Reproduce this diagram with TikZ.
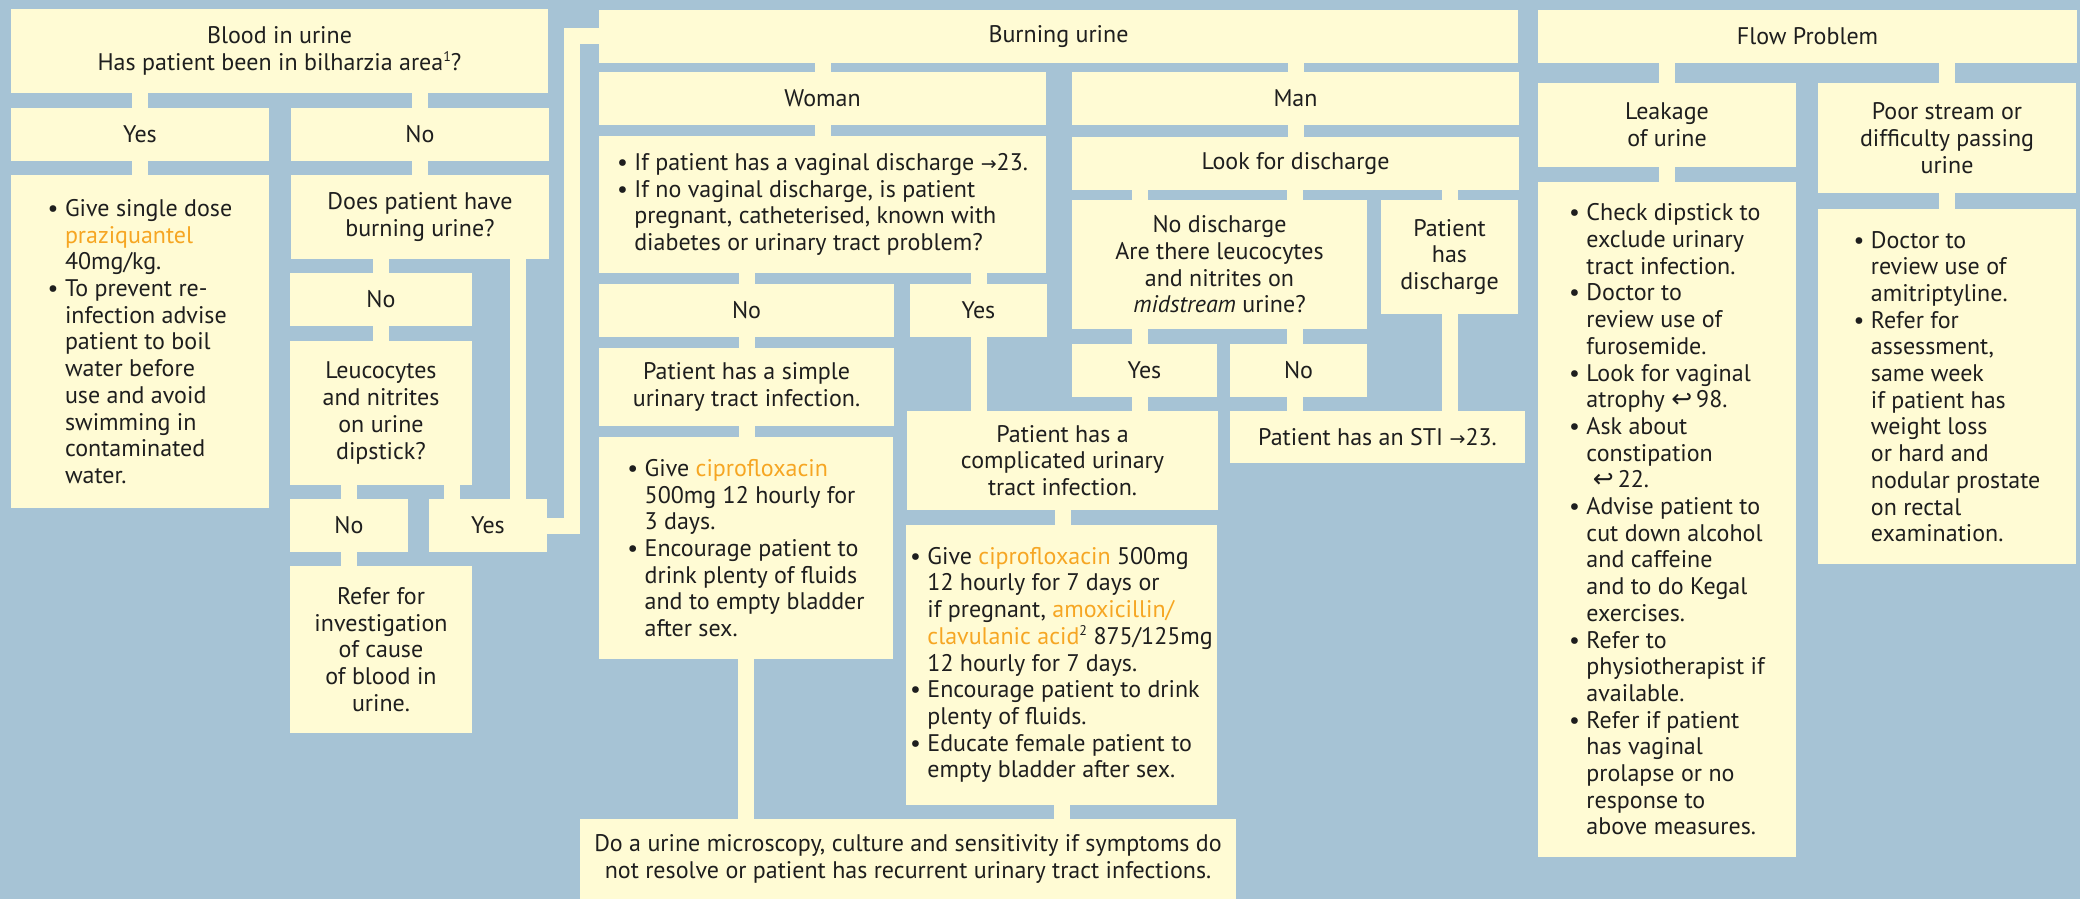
\documentclass[tikz,border=0pt]{standalone}
\usepackage{fontspec}
\setmainfont{PT Sans}
\newfontfamily\symf{DejaVu Sans}
\definecolor{bg}{HTML}{A6C3D5}
\definecolor{bx}{HTML}{FFFBD4}
\definecolor{org}{HTML}{F6A623}
\definecolor{ink}{HTML}{1E1E1E}
\newcommand\ra{{\symf\fontsize{9.5}{10}\selectfont →}}
\newcommand\hk{{\symf\fontsize{12.5}{10}\selectfont ↩}}
\newcommand\bu{\makebox[0.72em][l]{•}}
\newcommand\ii{\hspace*{0.72em}}
\newcommand\og[1]{\textcolor{org}{#1}}
\newcommand\sups[1]{\raisebox{0.75ex}{\fontsize{7}{7}\selectfont #1}}
\newcommand\bx[7][]{\node[box,#1, minimum width={(#4-#2)*0.5pt}, minimum height={(#5-#3)*0.5pt}] (#6) at ({(#2+#4)/2},{(#3+#5)/2}) {#7};}
\tikzset{
  box/.style={fill=bx, inner sep=0pt, align=center, text=ink, font=\fontsize{12}{13.35}\selectfont},
  lst/.style={align=left},
  conn/.style={draw=bx, line width=8pt},
}
\begin{document}
\begin{tikzpicture}[x=0.5pt,y=-0.5pt]
\fill[bg] (0,0) rectangle (2080,899);
\useasboundingbox (0,0) rectangle (2080,899);
% boxes
\bx{11}{9}{548}{93}{Blood}{Blood in urine\\Has patient been in bilharzia area\sups{1}?}
\bx{11}{108}{269}{161}{YesA}{Yes}
\bx{291}{108}{549}{161}{NoA}{No}
\bx[lst]{11}{175}{269}{508}{YesC}{\bu Give single dose\\\ii\og{praziquantel}\\\ii 40mg/kg.\\\bu To prevent re-\\\ii infection advise\\\ii patient to boil\\\ii water before\\\ii use and avoid\\\ii swimming in\\\ii contaminated\\\ii water.}
\bx{291}{175}{549}{259}{Does}{Does patient have\\burning urine?}
\bx{290}{273}{472}{326}{NoB}{No}
\bx{290}{341}{472}{485}{Leuco}{Leucocytes\\and nitrites\\on urine\\dipstick?}
\bx{290}{499}{408}{552}{NoC}{No}
\bx{429}{499}{547}{552}{YesB}{Yes}
\bx{290}{566}{472}{733}{Refer}{Refer for\\investigation\\of cause\\of blood in\\urine.}
\bx{599}{10}{1518}{63}{Burning}{Burning urine}
\bx{599}{72}{1046}{125}{Woman}{Woman}
\bx[lst]{599}{136}{1046}{273}{WC}{\bu If patient has a vaginal discharge \ra23.\\\bu If no vaginal discharge, is patient\\\ii pregnant, catheterised, known with\\\ii diabetes or urinary tract problem?}
\bx{599}{284}{894}{337}{NoW}{No}
\bx{910}{284}{1047}{337}{YesW}{Yes}
\bx{599}{348}{894}{426}{Simple}{Patient has a simple\\urinary tract infection.}
\bx[lst]{599}{437}{893}{659}{GiveS}{\bu Give \og{ciprofloxacin}\\\ii 500mg 12 hourly for\\\ii 3 days.\\\bu Encourage patient to\\\ii drink plenty of fluids\\\ii and to empty bladder\\\ii after sex.}
\bx{907}{411}{1218}{510}{Comp}{Patient has a\\complicated urinary\\tract infection.}
\bx[lst]{906}{525}{1217}{805}{GiveC}{\bu Give \og{ciprofloxacin} 500mg\\\ii 12 hourly for 7 days or\\\ii if pregnant, \og{amoxicillin/}\\\ii\og{clavulanic acid}\sups{2} 875/125mg\\\ii 12 hourly for 7 days.\\\bu Encourage patient to drink\\\ii plenty of fluids.\\\bu Educate female patient to\\\ii empty bladder after sex.}
\bx{580}{819}{1236}{899}{DoU}{Do a urine microscopy, culture and sensitivity if symptoms do\\not resolve or patient has recurrent urinary tract infections.}
\bx{1072}{72}{1519}{125}{Man}{Man}
\bx{1072}{137}{1519}{190}{Look}{Look for discharge}
\bx{1072}{200}{1367}{329}{NoDis}{No discharge\\Are there leucocytes\\and nitrites on\\\textit{midstream} urine?}
\bx{1381}{200}{1518}{314}{PatDis}{Patient\\has\\discharge}
\bx{1072}{344}{1217}{397}{YesM}{Yes}
\bx{1230}{344}{1367}{397}{NoM}{No}
\bx{1230}{411}{1525}{463}{STI}{Patient has an STI \ra23.}
\bx{1538}{10}{2077}{63}{Flow}{Flow Problem}
\bx{1538}{83}{1796}{167}{Leak}{Leakage\\of urine}
\bx{1818}{83}{2076}{193}{Poor}{Poor stream or\\difficulty passing\\urine}
\bx[lst]{1538}{182}{1796}{857}{LeakC}{\bu Check dipstick to\\\ii exclude urinary\\\ii tract infection.\\\bu Doctor to\\\ii review use of\\\ii furosemide.\\\bu Look for vaginal\\\ii atrophy \hk\,98.\\\bu Ask about\\\ii constipation\\\ii\ \hk\,22.\\\bu Advise patient to\\\ii cut down alcohol\\\ii and caffeine\\\ii and to do Kegal\\\ii exercises.\\\bu Refer to\\\ii physiotherapist if\\\ii available.\\\bu Refer if patient\\\ii has vaginal\\\ii prolapse or no\\\ii response to\\\ii above measures.}
\bx[lst]{1818}{209}{2076}{564}{PoorC}{\bu Doctor to\\\ii review use of\\\ii amitriptyline.\\\bu Refer for\\\ii assessment,\\\ii same week\\\ii if patient has\\\ii weight loss\\\ii or hard and\\\ii nodular prostate\\\ii on rectal\\\ii examination.}
% helper coordinates
\coordinate (xd) at (518,0);
\coordinate (xl) at (452,0);
\coordinate (xa) at (1140,0);
\coordinate (xb) at (1295,0);
\coordinate (e1) at (572,525.5);
\coordinate (e2) at (572,36);
% connectors
\draw[conn] (Blood.south -| YesA.north) -- (YesA.north);
\draw[conn] (Blood.south -| NoA.north) -- (NoA.north);
\draw[conn] (YesA.south) -- (YesC.north -| YesA.south);
\draw[conn] (NoA.south) -- (Does.north -| NoA.south);
\draw[conn] (Does.south -| NoB.north) -- (NoB.north);
\draw[conn] (Does.south -| xd) -- (YesB.north -| xd);
\draw[conn] (NoB.south) -- (Leuco.north -| NoB.south);
\draw[conn] (Leuco.south -| NoC.north) -- (NoC.north);
\draw[conn] (Leuco.south -| xl) -- (YesB.north -| xl);
\draw[conn] (NoC.south) -- (Refer.north -| NoC.south);
\draw[conn] (YesB.east |- e1) -- (e1) -- (e2) -- (Burning.west |- e2);
\draw[conn] (Burning.south -| Woman.north) -- (Woman.north);
\draw[conn] (Burning.south -| Man.north) -- (Man.north);
\draw[conn] (Woman.south) -- (WC.north -| Woman.south);
\draw[conn] (WC.south -| NoW.north) -- (NoW.north);
\draw[conn] (WC.south -| YesW.north) -- (YesW.north);
\draw[conn] (NoW.south) -- (Simple.north -| NoW.south);
\draw[conn] (Simple.south) -- (GiveS.north -| Simple.south);
\draw[conn] (GiveS.south) -- (DoU.north -| GiveS.south);
\draw[conn] (YesW.south) -- (Comp.north -| YesW.south);
\draw[conn] (Comp.south) -- (GiveC.north -| Comp.south);
\draw[conn] (GiveC.south) -- (DoU.north -| GiveC.south);
\draw[conn] (Man.south) -- (Look.north -| Man.south);
\draw[conn] (Look.south -| xa) -- (NoDis.north -| xa);
\draw[conn] (Look.south -| xb) -- (NoDis.north -| xb);
\draw[conn] (Look.south -| PatDis.north) -- (PatDis.north);
\draw[conn] (NoDis.south -| xa) -- (YesM.north -| xa);
\draw[conn] (NoDis.south -| xb) -- (NoM.north -| xb);
\draw[conn] (YesM.south -| xa) -- (Comp.north -| xa);
\draw[conn] (NoM.south -| xb) -- (STI.north -| xb);
\draw[conn] (PatDis.south) -- (STI.north -| PatDis.south);
\draw[conn] (Flow.south -| Leak.north) -- (Leak.north);
\draw[conn] (Flow.south -| Poor.north) -- (Poor.north);
\draw[conn] (Leak.south) -- (LeakC.north -| Leak.south);
\draw[conn] (Poor.south) -- (PoorC.north -| Poor.south);
\end{tikzpicture}
\end{document}
